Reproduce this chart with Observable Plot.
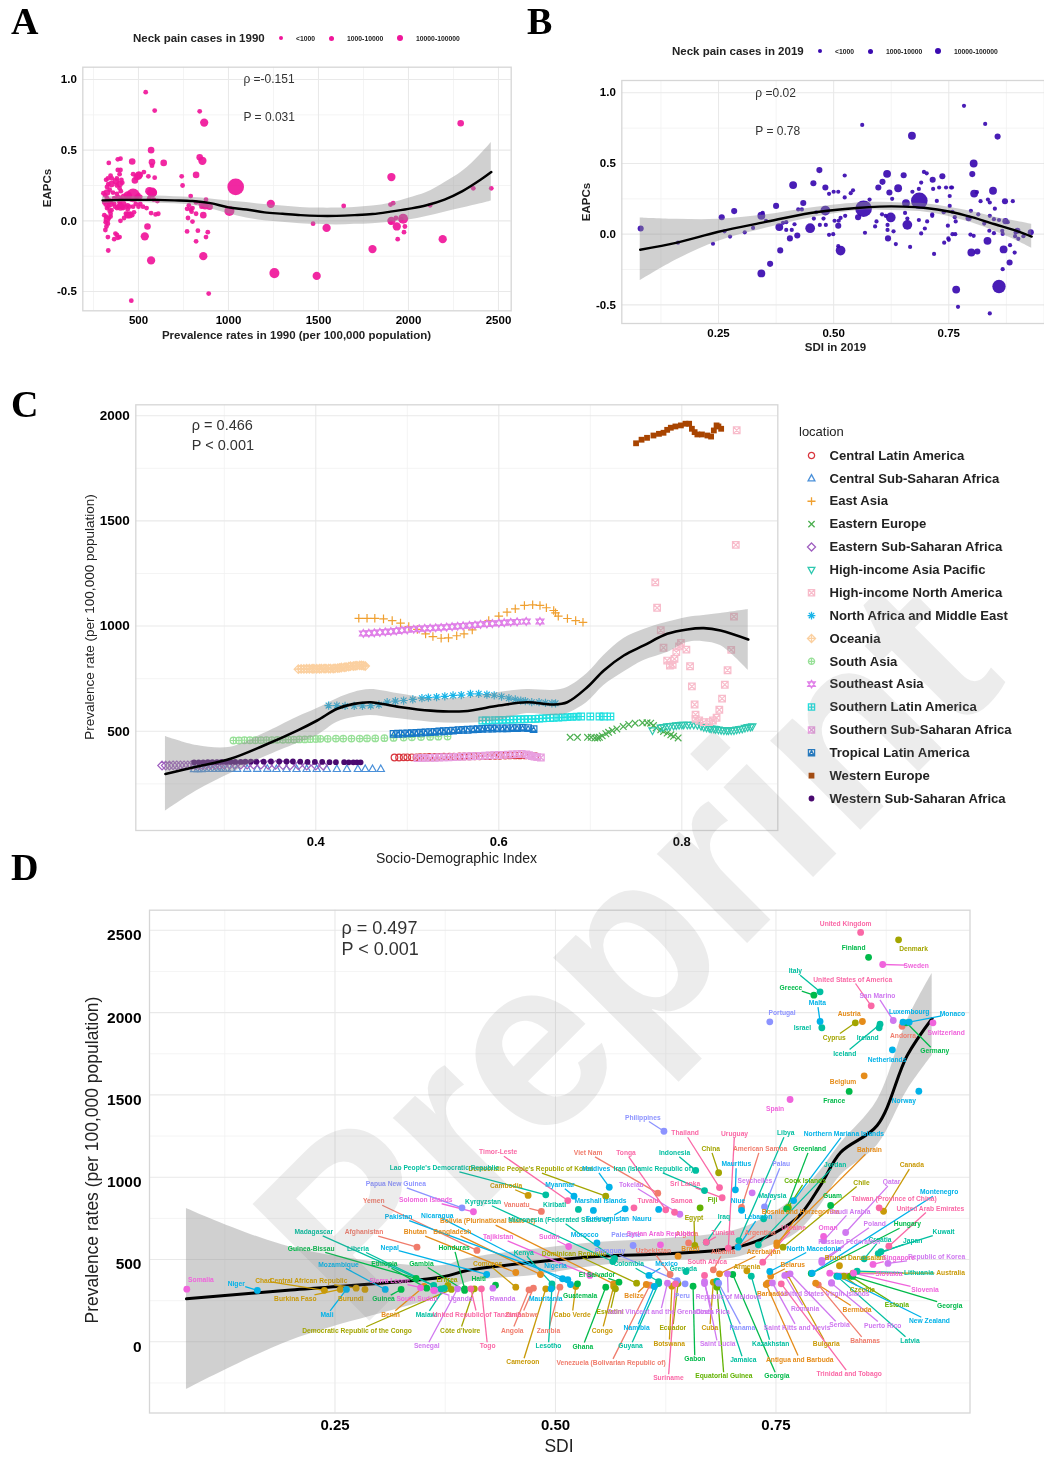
<!DOCTYPE html>
<html><head><meta charset="utf-8">
<script src="https://cdn.jsdelivr.net/npm/d3@7"></script>
<script src="https://cdn.jsdelivr.net/npm/@observablehq/plot@0.6"></script>
<style>
html,body{margin:0;padding:0;background:#fff;}
#page{position:relative;width:1044px;height:1457px;overflow:hidden;font-family:"Liberation Sans",Arial,sans-serif;filter:blur(.35px);}
#page svg{position:absolute;background:transparent;overflow:visible;}
.t{position:absolute;white-space:nowrap;color:#222;}
.ldot{position:absolute;border-radius:50%;}
</style></head><body><div id="page"></div>
<script>
// ---------- Panel A: prevalence 1990 vs EAPC, grouped by estimated case band
const a1990Tiny=[[305,.195],[335,.41],[330,.3],[320,.29],[332,.26],[325,.24],[340,.22],[315,.18],[325,.16],[310,.13],[340,.13],[318,.115],[325,.09],[333,.1],[310,.04],[320,.03],[335,.02],[345,.03],[318,-.01],[330,-.02],[322,-.04],[316,-.065],[330,-.115],[332,-.21],[345,.32],[352,.3],[358,.2],[365,.16],[345,.05],[350,.075],[340,.07],[365,.12],[370,.1],[380,.09],[390,.1],[395,.13],[400,.1],[405,.15],[380,.3],[385,.36],[395,.33],[400,.36],[405,.29],[410,.27],[380,.25],[395,.23],[402,.21],[385,.435],[400,.44],[380,.19],[372,-.09],[380,-.1],[365,-.13],[395,-.115],[385,-.12],[400,0],[420,.02],[430,.05],[440,.08],[450,.1],[470,.1],[490,.17],[510,.12],[475,.06],[485,.12],[430,.1],[415,.09],[530,.345],[555,.315],[590,.305],[545,.09],[575,.18],[585,.15],[560,.16],[610,.05],[595,.045],[570,.055],[605,.14],[540,.91],[590,.78],[840,.775],[575,.39],[740,.315],[745,.25],[790,.175],[770,.085],[780,.11],[790,.08],[800,.09],[795,.065],[775,.02],[800,-.005],[820,.05],[770,-.075],[830,-.07],[820,-.145],[875,-.115],[885,-.08],[890,-.515],[460,-.565],[875,.15],[850,.1],[870,.11],[820,.13],[845,.12],[1470,-.02],[1900,.115],[1915,.125],[1930,.02],[1940,-.13],[1975,-.08],[1980,-.04],[1900,-.01],[1960,.01],[2360,.23],[2460,.23],[2120,.11],[1640,.105],[470,.33],[510,.325],[450,.18],[500,.18],[510,.17],[525,.1],[500,.1],[455,.05],[465,.04],[440,.11]];
const a1990Small=[[465,.42],[570,.5],[575,.415],[640,.41],[840,.45],[2290,.69],[820,.325],[505,.325],[490,.31],[480,.285],[440,.04],[450,.04],[550,-.04],[860,.04],[895,.1],[325,.2],[350,.26],[375,.28],[395,.26],[335,.14],[390,.16],[420,.17],[325,.01],[345,.12]];
const a1990Mid=[[865,.695],[855,.425],[535,-.11],[570,-.28],[860,-.25],[560,.21],[580,.2],[1235,.12],[1490,-.39],[1545,-.05],[1800,-.2],[1905,.31],[1935,-.04],[2190,-.13],[1905,0],[870,.11],[500,.32],[400,.1],[410,.12],[440,.18]];
const a1990Large=[[1255,-.37],[1005,.07],[1970,.015],[575,.2]];
const a1990Huge=[[470,.18]];
const a1990Top=[[1040,.24]];
const aCurveX=[300,400,500,600,700,800,900,1000,1100,1200,1300,1400,1500,1600,1700,1800,1900,2000,2100,2200,2300,2400,2460];
const aCurveY=[.145,.148,.148,.148,.145,.14,.125,.095,.08,.06,.05,.04,.035,.035,.04,.048,.065,.085,.11,.15,.21,.29,.345];
const aCurveLow=[.12,.13,.13,.125,.12,.11,.085,.05,.02,0,-.01,-.02,-.025,-.03,-.025,-.02,-.01,.005,.03,.06,.09,.12,.14];
const aCurveHigh=[.17,.17,.17,.175,.17,.165,.155,.14,.13,.115,.105,.095,.09,.09,.095,.105,.125,.16,.2,.27,.35,.47,.555];

// ---------- Panel B: SDI 2019 vs EAPC
const b2019Tiny=[[.162,-.06],[.238,-.068],[.263,.02],[.275,-.017],[.307,.013],[.325,.044],[.346,.15],[.353,.095],[.39,.08],[.397,.085],[.397,.03],[.409,.03],[.415,.07],[.423,.175],[.431,.175],[.457,.11],[.462,.155],[.47,.065],[.478,.11],[.483,.065],[.49,.285],[.5,.3],[.51,.3],[.502,.095],[.49,-.005],[.499,0],[.511,.095],[.515,.115],[.51,-.085],[.524,.415],[.525,.13],[.524,.26],[.537,.29],[.542,.31],[.562,.773],[.568,.01],[.578,.245],[.59,.055],[.593,.09],[.605,.14],[.613,.13],[.617,.065],[.617,.03],[.627,.25],[.63,.02],[.635,-.07],[.66,.11],[.655,.15],[.666,-.09],[.671,.3],[.685,.32],[.69,.365],[.685,.1],[.69,.005],[.698,.04],[.696,.44],[.702,.43],[.703,.09],[.716,.32],[.714,.13],[.714,.14],[.724,.235],[.729,.33],[.744,.33],[.755,.33],[.752,.27],[.752,.2],[.739,.155],[.748,.06],[.74,-.06],[.749,-.03],[.75,-.04],[.718,-.14],[.757,.33],[.758,.158],[.763,.12],[.765,.09],[.758,0],[.764,0],[.798,.165],[.814,.14],[.797,-.003],[.804,-.012],[.811,.297],[.819,.233],[.835,.245],[.839,.224],[.829,.78],[.85,.18],[.839,.13],[.827,.075],[.848,.106],[.859,.1],[.878,.085],[.838,.024],[.848,.007],[.866,.024],[.867,.002],[.889,.233],[.883,-.078],[.893,-.13],[.867,-.248],[.77,-.514],[.839,-.561],[.895,.012],[.894,-.014],[.901,-.033],[.912,-.014],[.783,.908]];
const b2019Small=[[.081,.04],[.257,.12],[.284,.163],[.375,.2],[.362,-.21],[.384,-.115],[.405,-.03],[.421,-.01],[.434,.22],[.456,.36],[.482,.33],[.51,.06],[.553,.12],[.597,.33],[.606,.37],[.618,-.03],[.621,.295],[.715,.385],[.801,.425],[.793,.113],[.872,.233],[.882,-.2],[.812,-.123],[.899,.024],[.928,.014],[.873,.092],[.469,.453],[.652,.417],[.736,.41],[.856,.69]];
const b2019Mid=[[.343,-.278],[.343,.13],[.382,.05],[.412,.347],[.616,.427],[.64,.325],[.657,.22],[.67,.696],[.804,.5],[.805,.287],[.846,.307],[.834,-.047],[.869,-.108],[.799,-.13],[.766,-.392]];
const b2019Large=[[.449,.042],[.482,.167],[.515,-.116],[.624,.118],[.66,.066]];
const b2019Huge=[[.859,-.37]];
const b2019Top=[[.565,.18],[.686,.236]];
const bCurveX=[.08,.16,.25,.35,.45,.55,.6,.65,.7,.75,.8,.85,.9,.93];
const bCurveY=[-.11,-.06,.017,.085,.15,.185,.195,.195,.185,.16,.12,.07,.02,-.017];
const bCurveLow=[-.33,-.18,-.05,.04,.115,.165,.17,.165,.155,.125,.08,.02,-.05,-.1];
const bCurveHigh=[.115,.105,.105,.135,.185,.22,.225,.22,.215,.19,.16,.12,.09,.07];

// ---------- Panel C: regional trajectories
const centralLatinAmerica=[[.486,375],[.491,375],[.496,376],[.5,376],[.505,376],[.51,376],[.514,377],[.519,377],[.524,378],[.53,378],[.535,378],[.54,379],[.546,379],[.551,379],[.557,380],[.562,380],[.568,380],[.574,381],[.579,381],[.585,382],[.59,382],[.596,383],[.601,383],[.607,384],[.612,385],[.618,385],[.623,385],[.629,385],[.635,383],[.64,382]];
const centralSubSaharan=[[.267,320],[.271,320],[.275,320],[.279,321],[.283,321],[.287,321],[.291,321],[.295,322],[.299,322],[.303,322],[.308,322],[.314,322],[.325,322],[.336,322],[.347,322],[.357,321],[.368,321],[.379,321],[.39,321],[.401,321],[.412,321],[.423,321],[.434,321],[.446,321],[.454,321],[.462,321],[.471,321]];
const eastAsia=[[.447,1037],[.456,1037],[.4645,1037],[.474,1034],[.4835,1026],[.4926,1014],[.5016,998],[.511,984],[.52,963],[.528,950],[.537,942],[.545,944],[.554,954],[.562,963],[.571,982],[.589,1026],[.6,1047],[.609,1066],[.618,1082],[.628,1098],[.637,1101],[.645,1098],[.652,1087],[.66,1074],[.662,1063],[.665,1047],[.675,1036],[.684,1026],[.692,1018]];
const easternEurope=[[.678,471],[.686,471],[.697,471],[.701,471],[.705,468],[.708,468],[.71,471],[.713,478],[.717,488],[.72,495],[.724,503],[.729,511],[.736,522],[.742,532],[.749,538],[.757,540],[.762,540],[.766,538],[.769,527],[.772,516],[.777,507],[.78,499],[.784,491],[.788,483],[.791,476],[.796,468]];
const easternSubSaharan=[[.232,337],[.236,337],[.24,337],[.244,338],[.248,338],[.252,338],[.256,338],[.26,338],[.264,339],[.268,339],[.272,339],[.276,339],[.28,340],[.285,340],[.29,340],[.295,340],[.3,341],[.306,341],[.312,341],[.318,341],[.325,341],[.332,341],[.34,341],[.348,340],[.356,340],[.364,339],[.372,338],[.381,338],[.39,337],[.4,337],[.408,337]];
const highIncomeAsiaPacific=[[.768,503],[.777,516],[.78,519],[.784,522],[.787,524],[.791,525],[.794,527],[.797,529],[.8,530],[.802,530],[.806,530],[.809,530],[.813,530],[.817,529],[.821,524],[.824,519],[.827,516],[.83,514],[.832,512],[.835,511],[.837,509],[.84,507],[.843,505],[.846,503],[.849,503],[.851,503],[.854,503],[.857,503],[.86,507],[.863,509],[.866,511],[.869,515],[.872,519],[.875,520],[.877,522]];
const highIncomeNorthAmerica=[[.86,1931],[.859,1386],[.771,1208],[.773,1087],[.857,1045],[.777,980],[.78,897],[.854,887],[.799,920],[.797,903],[.805,888],[.794,876],[.792,844],[.784,836],[.79,816],[.787,812],[.809,809],[.85,790],[.811,713],[.847,721],[.844,655],[.814,627],[.841,602],[.815,579],[.838,564],[.815,559],[.819,551],[.824,543],[.83,543],[.834,551]];
const northAfricaMiddleEast=[[.414,622],[.423,622],[.432,620],[.442,620],[.451,621],[.46,622],[.469,626],[.478,638],[.487,643],[.496,646],[.506,651],[.516,657],[.523,660],[.532,662],[.541,666],[.55,670],[.559,672],[.569,678],[.578,678],[.587,674],[.595,671],[.603,665],[.611,657],[.618,651],[.624,646],[.629,643],[.636,638],[.644,638],[.651,635],[.658,633],[.662,633]];
const oceania=[[.381,795],[.384,796],[.387,796],[.39,797],[.393,797],[.396,797],[.398,797],[.401,797],[.404,797],[.406,798],[.409,798],[.411,798],[.414,798],[.416,798],[.419,798],[.421,799],[.424,800],[.426,801],[.428,803],[.431,804],[.433,805],[.436,807],[.438,809],[.441,810],[.443,811],[.445,812],[.448,813],[.45,813],[.452,812],[.454,810]];
const southAsia=[[.31,456],[.316,456],[.322,457],[.328,457],[.334,457],[.34,457],[.346,458],[.352,458],[.358,459],[.364,459],[.37,460],[.376,460],[.382,461],[.388,461],[.394,462],[.4,463],[.405,464],[.413,464],[.422,465],[.43,465],[.439,465],[.448,465],[.456,466],[.465,466],[.475,467],[.485,468],[.496,470],[.505,471],[.515,472],[.525,473],[.534,474],[.544,475]];
const southeastAsia=[[.452,965],[.458,966],[.464,968],[.47,970],[.476,972],[.482,974],[.488,977],[.494,980],[.5,982],[.507,985],[.513,987],[.519,989],[.525,990],[.531,992],[.537,993],[.543,995],[.549,997],[.555,999],[.561,1001],[.568,1003],[.574,1005],[.58,1008],[.587,1010],[.593,1012],[.6,1014],[.606,1016],[.613,1018],[.62,1020],[.63,1022],[.645,1022]];
const southernLatinAmerica=[[.582,551],[.586,551],[.59,552],[.596,553],[.6,553],[.604,554],[.608,554],[.612,555],[.616,555],[.62,556],[.624,556],[.628,557],[.632,558],[.636,558],[.64,559],[.644,560],[.648,561],[.652,562],[.656,563],[.66,564],[.665,565],[.67,566],[.675,567],[.68,568],[.685,569],[.69,570],[.7,570],[.71,570],[.715,570],[.722,570]];
const southernSubSaharan=[[.511,372],[.516,372],[.52,373],[.525,373],[.53,374],[.535,375],[.54,376],[.545,376],[.55,377],[.555,378],[.56,379],[.565,380],[.57,381],[.575,382],[.58,383],[.585,384],[.59,385],[.595,386],[.6,387],[.605,388],[.61,389],[.615,390],[.62,391],[.625,392],[.63,390],[.633,386],[.636,382],[.639,379],[.642,377],[.646,375]];
const tropicalLatinAmerica=[[.485,487],[.49,488],[.495,489],[.5,490],[.505,491],[.51,492],[.515,493],[.52,495],[.525,496],[.53,497],[.535,499],[.54,500],[.545,502],[.55,503],[.556,505],[.561,506],[.566,507],[.572,509],[.577,510],[.582,511],[.588,512],[.593,513],[.598,514],[.604,514],[.609,514],[.615,515],[.62,515],[.626,516],[.632,515],[.638,510]];
const westernEurope=[[.75,1869],[.756,1886],[.762,1895],[.769,1906],[.775,1914],[.78,1919],[.784,1933],[.788,1943],[.793,1949],[.799,1954],[.804,1962],[.808,1962],[.811,1938],[.814,1922],[.817,1911],[.822,1911],[.828,1906],[.832,1901],[.835,1930],[.838,1954],[.84,1949],[.843,1938]];
const westernSubSaharan=[[.267,352],[.272,352],[.277,352],[.282,353],[.287,353],[.292,353],[.297,354],[.302,354],[.307,354],[.312,354],[.318,354],[.323,355],[.329,355],[.335,355],[.343,355],[.351,356],[.36,356],[.368,356],[.375,356],[.383,355],[.391,354],[.399,354],[.407,354],[.415,353],[.422,353],[.431,353],[.436,352],[.441,352],[.445,352],[.449,352]];
const cCurveX=[.2357,.2704,.3068,.3432,.3797,.4015,.4234,.4415,.4598,.489,.5254,.5617,.6,.631,.66,.6748,.6966,.7148,.7366,.7585,.784,.8059,.824,.8423,.8726];
const cCurveY=[297,332,369,432,503,551,607,630,638,617,598,595,622,638,627,638,709,789,860,908,963,984,990,979,936];
const cCurveLow=[120,218,299,376,442,480,543,565,575,560,543,538,551,584,575,584,638,717,781,836,874,922,926,907,789];
const cCurveHigh=[475,432,424,489,567,608,655,684,698,679,655,660,684,698,694,708,774,860,941,984,1018,1041,1050,1060,1079];

// ---------- Panel D: country rows by hue group: [name, SDI, prevalence, label SDI, label prevalence]
const redCountries=[["Yemen",.411,555,.294,854],["Afghanistan",.343,575,.283,666],["Vanuatu",.484,792,.456,830],["Viet Nam",.616,903,.537,1148],["Angola",.47,316,.451,69],["Zimbabwe",.475,326,.462,166],["Zambia",.505,332,.492,69],["Uzbekistan",.63,409,.611,550],["Algeria",.651,601,.649,656],["Venezuela (Bolivarian Republic of)",.607,344,.563,-128],["Albania",.679,437,.69,544],["Argentina",.707,579,.732,662],["American Samoa",.711,816,.732,1172],["Bahamas",.798,346,.851,6],["Andorra",.893,1917,.894,1859]];
const orangeCountries=[["Austria",.848,1946,.833,1994],["Belgium",.85,1616,.826,1577],["Bhutan",.455,421,.341,666],["Bangladesh",.483,409,.383,668],["Benin",.351,336,.313,164],["Bolivia (Plurinational State of)",.566,352,.423,733],["Belize",.603,348,.589,277],["Brazil",.639,520,.653,565],["Azerbaijan",.686,413,.736,544],["Bahrain",.751,601,.856,1164],["Belarus",.744,399,.769,468],["Barbados",.741,358,.746,293],["Antigua and Barbuda",.739,348,.777,-108],["Bermuda",.795,356,.842,196],["Bosnia and Herzegovina",.751,585,.778,792]];
const goldCountries=[["Chad",.238,313,.169,371],["Central African Republic",.274,326,.22,371],["Burkina Faso",.256,318,.205,261],["Burundi",.284,318,.268,261],["Cambodia",.469,889,.444,948],["Comoros",.455,332,.423,476],["Cameroon",.489,322,.463,-124],["Cabo Verde",.523,336,.519,166],["Congo",.566,336,.553,69],["Botswana",.632,338,.629,-10],["Cuba",.679,362,.675,83],["Armenia",.717,431,.717,457],["Brunei Darussalam",.822,462,.84,508],["Canada",.872,793,.904,1073],["Bulgaria",.763,409,.807,-12],["Australia",.8375,417,.948,417]];
const oliveCountries=[["Denmark",.889,2442,.906,2385],["Cyprus",.84,1938,.816,1849],["Eritrea",.378,342,.377,378],["Côte d'Ivoire",.408,322,.392,69],["Democratic Republic of the Congo",.382,318,.275,67],["Democratic People's Republic of Korea",.557,885,.472,1049],["Eswatini",.568,322,.562,182],["China",.685,1027,.676,1172],["Chile",.758,575,.847,968],["Egypt",.658,585,.657,755],["Ecuador",.639,354,.633,83],["Dominican Republic",.592,356,.521,535],["Czechia",.827,399,.848,318]];
const limeCountries=[["Cook Islands",.764,816,.783,978],["Estonia",.834,399,.887,222],["Equatorial Guinea",.683,332,.691,-209],["Fiji",.664,814,.678,863]];
const greenCountries=[["France",.833,1521,.816,1462],["Finland",.855,2336,.838,2394],["Gabon",.656,338,.658,-106],["Gambia",.397,312,.348,476],["Ghana",.557,332,.531,-28],["Georgia",.701,409,.751,-209],["Georgia",.837,397,.947,221],["Germany",.898,1938,.93,1765],["Greenland",.762,808,.788,1172],["Guatemala",.525,352,.528,277],["Guam",.812,828,.814,885],["Guinea",.325,318,.305,259],["Guinea-Bissau",.342,385,.223,567],["Greece",.793,2106,.767,2152],["El Salvador",.572,362,.547,409],["Haiti",.432,344,.413,385],["Ethiopia",.354,326,.306,471],["Hungary",.79,415,.899,714],["Honduras",.397,322,.385,571]];
const tealCountries=[["Iceland",.868,1929,.828,1751],["Ireland",.867,1908,.854,1849],["Indonesia",.659,1041,.635,1148],["Iran (Islamic Republic of)",.669,919,.611,1051],["Iraq",.671,605,.691,757],["Israel",.802,1908,.78,1905],["Italy",.80,2126,.772,2251],["Jamaica",.683,368,.713,-112],["Jordan",.73,589,.817,1075],["Kazakhstan",.722,399,.744,-12],["Kenya",.496,352,.464,541],["Kiribati",.526,804,.499,830],["Kuwait",.869,547,.94,666],["Kyrgyzstan",.565,488,.418,851],["Japan",.866,536,.905,611],["Latvia",.819,399,.902,6],["Lao People's Democratic Republic",.489,893,.374,1057],["Liberia",.362,342,.276,567],["Madagascar",.37,322,.226,668],["Libya",.708,615,.761,1267],["Lithuania",.842,429,.912,417],["Croatia",.85,504,.868,621],["Micronesia (Federated States of)",.567,506,.505,741],["Colombia",.617,366,.583,471],["Guyana",.617,354,.585,-27],["Lesotho",.496,330,.492,-27],["Malaysia",.736,747,.746,885],["Malawi",.374,324,.354,164],["Grenada",.648,427,.645,445]];
const blueCountries=[["Malta",.80,1946,.797,2057],["Luxembourg",.894,1942,.901,2005],["Monaco",.901,1942,.95,1993],["Netherlands",.882,1774,.876,1715],["Niger",.162,312,.138,352],["Mozambique",.307,318,.254,470],["Mali",.263,318,.241,164],["Nepal",.422,409,.312,569],["Myanmar",.521,885,.505,954],["Maldives",.561,939,.546,1051],["Marshall Islands",.543,798,.551,857],["Mauritania",.495,322,.489,261],["Mauritius",.704,923,.705,1079],["Mexico",.606,403,.626,471],["Morocco",.547,601,.533,650],["Namibia",.612,336,.592,83],["Nauru",.617,804,.598,749],["New Zealand",.821,397,.924,125],["Nicaragua",.517,348,.366,765],["Nigeria",.508,383,.5,464],["North Macedonia",.743,427,.793,567],["Niue",.711,799,.707,858],["Northern Mariana Islands",.77,858,.827,1265],["Norway",.912,1522,.895,1464],["Montenegro",.791,417,.935,909],["Pakistan",.514,378,.322,761],["Lebanon",.707,575,.73,757],["Turkmenistan",.579,808,.559,745]];
const periwinkleCountries=[["Portugal",.743,1944,.757,2000],["Philippines",.623,1279,.599,1363],["Papua New Guinea",.394,814,.319,960],["Palestine",.588,585,.58,650],["Palau",.737,820,.756,1079],["Peru",.647,352,.644,277],["Panama",.685,356,.712,83],["Paraguay",.638,372,.562,550]];
const purpleCountries=[["San Marino",.883,1952,.865,2102],["Poland",.802,494,.862,717],["Puerto Rico",.813,356,.871,99],["Qatar",.829,664,.881,970],["Republic of Korea",.877,476,.932,516],["Republic of Moldova",.695,413,.696,275],["Romania",.76,403,.783,198],["Russian Federation",.802,482,.833,605],["Rwanda",.429,326,.44,263],["Saint Kitts and Nevis",.746,358,.774,85],["Saint Lucia",.669,366,.684,-15],["Saint Vincent and the Grenadines",.627,356,.619,180],["Saudi Arabia",.804,615,.834,792],["Senegal",.389,322,.354,-27],["Serbia",.766,413,.822,101],["Uganda",.363,312,.392,261],["Seychelles",.723,905,.726,978],["Costa Rica",.669,354,.678,180],["Tokelau",.641,775,.586,954],["United States Virgin Islands",.813,360,.806,293]];
const magentaCountries=[["Somalia",.082,320,.098,374],["Sweden",.871,2292,.909,2286],["Spain",.766,1472,.749,1413],["Switzerland",.928,1938,.943,1879],["Slovakia",.811,417,.878,411],["Slovenia",.838,417,.919,316],["Singapore",.86,470,.889,512],["Solomon Islands",.407,790,.353,863],["South Sudan",.347,328,.343,261],["Sudan",.515,579,.493,638],["Syrian Arab Republic",.619,589,.619,654],["Tajikistan",.539,403,.435,638],["Sierra Leone",.362,312,.312,372],["Oman",.804,640,.809,694]];
const pinkCountries=[["United Kingdom",.846,2487,.829,2541],["United States of America",.858,2041,.837,2201],["Timor-Leste",.514,858,.435,1152],["Thailand",.686,937,.647,1267],["Sri Lanka",.689,875,.647,960],["Tonga",.625,802,.58,1148],["Samoa",.635,787,.643,857],["Tuvalu",.589,814,.605,857],["Togo",.416,322,.423,-27],["United Republic of Tanzania",.404,322,.411,166],["Trinidad and Tobago",.756,352,.833,-197],["Ukraine",.735,484,.77,693],["Tunisia",.671,605,.69,662],["Taiwan (Province of China)",.867,814,.884,871],["United Arab Emirates",.878,581,.925,810],["Uruguay",.696,569,.703,1265],["South Africa",.669,403,.672,484],["Suriname",.636,352,.628,-221]];
const dCurveX=[.0816,.2,.37,.3999,.475,.551,.6266,.6984,.7359,.7744,.8005,.8232,.8647,.8988,.9271];
const dCurveY=[261,315,392,433,484,520,535,567,628,755,950,1150,1314,1739,1964];
const dCurveLow=[-290,8,280,360,403,464,494,506,567,664,828,1010,1193,1527,1739];
const dCurveHigh=[810,575,462,506,561,605,628,670,749,889,1041,1205,1466,1952,2237];

// ---------- scale domains, ticks, annotation texts, palettes
const caseBands=[["tiny",300],["small",1000],["mid",3000],["large",10000],["huge",100000],["top",800000]];
const regions=[["Central Latin America",centralLatinAmerica,"circle","#d9363e"],["Central Sub-Saharan Africa",centralSubSaharan,"triUp","#4a90d9"],["East Asia",eastAsia,"plus","#f0a030"],["Eastern Europe",easternEurope,"times","#4caf50"],["Eastern Sub-Saharan Africa",easternSubSaharan,"diamond","#a060c0"],["High-income Asia Pacific",highIncomeAsiaPacific,"triDown","#2ec8b0"],["High-income North America",highIncomeNorthAmerica,"squareX","#f8bccb"],["North Africa and Middle East",northAfricaMiddleEast,"asterisk","#18b4e8"],["Oceania",oceania,"diamondPlus","#fbd0a0"],["South Asia",southAsia,"circlePlus","#98e098"],["Southeast Asia",southeastAsia,"david","#e080e8"],["Southern Latin America",southernLatinAmerica,"squarePlus","#20e0e0"],["Southern Sub-Saharan Africa",southernSubSaharan,"squareX","#e8a0e0"],["Tropical Latin America",tropicalLatinAmerica,"squareTri","#1878c8"],["Western Europe",westernEurope,"fillSquare","#a84400"],["Western Sub-Saharan Africa",westernSubSaharan,"fillCircle","#4a0a70"]];
const hueGroups=[["red",redCountries,"#F07C6C"],["orange",orangeCountries,"#E58C1A"],["gold",goldCountries,"#C99A08"],["olive",oliveCountries,"#A3A500"],["lime",limeCountries,"#62B200"],["green",greenCountries,"#00BA4A"],["teal",tealCountries,"#00BFA0"],["blue",blueCountries,"#00B2E8"],["periwinkle",periwinkleCountries,"#8C93FF"],["purple",purpleCountries,"#CF78F0"],["magenta",magentaCountries,"#F064DC"],["pink",pinkCountries,"#FA68A6"]];

// ---------- helpers
const page=document.getElementById("page");
const FONT='"Liberation Sans",Arial,sans-serif';
function txt(s,x,y,o={}){const d=document.createElement("div");d.className="t";d.textContent=s;
  d.style.cssText+=`left:${x}px;top:${y}px;font-size:${o.size||11}px;font-weight:${o.weight||"normal"};font-family:${o.font||FONT};color:${o.color||"#222"};transform:translate(${o.tx||"0"},-50%) ${o.rot?`rotate(${o.rot}deg)`:""};`;
  page.appendChild(d);}
function ldot(x,y,r,c){const d=document.createElement("div");d.className="ldot";d.style.cssText+=`left:${x-r}px;top:${y-r}px;width:${2*r}px;height:${2*r}px;background:${c};`;page.appendChild(d);}
function place(p,left,top){p.style.left=left+"px";p.style.top=top+"px";page.appendChild(p);}
const num1=d=>d3.format(".1f")(d).replace("−","-"),num2=d=>d3.format(".2f")(d),plain=d=>String(d);
const GRID="#e9e9e9",MINOR="#f1f1f1",FRAME="#d6d6d6";
function grid(xMajor,xMinor,yMajor,yMinor){return [
  Plot.ruleX(xMinor,{stroke:MINOR,strokeWidth:.8}),Plot.ruleY(yMinor,{stroke:MINOR,strokeWidth:.8}),
  Plot.ruleX(xMajor,{stroke:GRID,strokeWidth:1.1}),Plot.ruleY(yMajor,{stroke:GRID,strokeWidth:1.1})];}
function ribbon(xs,lo,hi,mid,w){const rows=xs.map((x,i)=>({x,lo:lo[i],hi:hi[i],y:mid[i]}));return {
  band:Plot.areaY(rows,{x:"x",y1:"lo",y2:"hi",fill:"#8f8f8f",fillOpacity:.42,curve:"catmull-rom"}),
  line:Plot.line(rows,{x:"x",y:"y",stroke:"#000",strokeWidth:w,curve:"catmull-rom"})};}
function caseRows(lists){return lists.flatMap((l,i)=>l.map(([x,y])=>({x,y,cases:caseBands[i][1]})));}
const base={style:{fontFamily:FONT,background:"transparent",overflow:"visible"}};
function scatter(rows,color){return Plot.dot(rows,{x:"x",y:"y",r:"cases",fill:color,fillOpacity:.92});}

// ---------- Panel A
{const r=ribbon(aCurveX,aCurveLow,aCurveHigh,aCurveY,2.4);
 place(Plot.plot({...base,width:522,height:345,marginLeft:82.3,marginRight:11.3,marginTop:66.7,marginBottom:34.7,
  x:{domain:[190.6,2570.6]},y:{domain:[-.6366,1.087]},r:{type:"log",domain:[300,1e6],range:[2.4,8.5]},
  marks:[...grid([500,1000,1500,2000,2500],[250,750,1250,1750,2250],[-.5,0,.5,1],[-.25,.25,.75]),
   Plot.frame({stroke:FRAME,strokeWidth:1.3}),
   scatter(caseRows([a1990Tiny,a1990Small,a1990Mid,a1990Large,a1990Huge,a1990Top]),"#f0169a"),r.band,r.line,
   Plot.axisX({ticks:[500,1000,1500,2000,2500],tickSize:0,tickPadding:5,fontSize:11.5,fontWeight:"bold",label:null,tickFormat:plain}),
   Plot.axisY({ticks:[-.5,0,.5,1],tickSize:0,tickPadding:6,fontSize:11.5,fontWeight:"bold",tickFormat:num1,label:null}),
   Plot.text([[1083,1.0],[1083,.73]],{x:d=>d[0],y:d=>d[1],text:(d,i)=>["ρ =-0.151","P = 0.031"][i],textAnchor:"start",fontSize:12,fill:"#333"})
  ]}),0,0);}
txt("Prevalence rates in 1990 (per 100,000 population)",296.5,334.5,{size:11.5,weight:"bold",tx:"-50%"});
txt("EAPCs",47,188,{size:11.5,weight:"bold",tx:"-50%",rot:-90});
txt("Neck pain cases in 1990",133,38,{size:11.5,weight:"bold"});
[[281,296,"<1000",2.2],[331,347,"1000-10000",2.5],[400,416,"10000-100000",3.2]].forEach(([dx,tx,s,r])=>{ldot(dx,38,r,"#f0169a");txt(s,tx,38,{size:6.8,weight:"bold"});});

// ---------- Panel B
{const r=ribbon(bCurveX,bCurveLow,bCurveHigh,bCurveY,2.4);
 place(Plot.plot({...base,width:522,height:360,marginLeft:99.3,marginRight:0,marginTop:80,marginBottom:37,
  x:{domain:[.04,.9578]},y:{domain:[-.632,1.087]},r:{type:"log",domain:[300,1e6],range:[2.1,8.5]},
  marks:[...grid([.25,.5,.75],[.125,.375,.625,.875],[-.5,0,.5,1],[-.25,.25,.75]),
   Plot.frame({stroke:FRAME,strokeWidth:1.3}),
   scatter(caseRows([b2019Tiny,b2019Small,b2019Mid,b2019Large,b2019Huge,b2019Top]),"#3a0ab0"),r.band,r.line,
   Plot.axisX({ticks:[.25,.5,.75],tickSize:0,tickPadding:5,fontSize:11.5,fontWeight:"bold",tickFormat:num2,label:null}),
   Plot.axisY({ticks:[-.5,0,.5,1],tickSize:0,tickPadding:6,fontSize:11.5,fontWeight:"bold",tickFormat:num1,label:null}),
   Plot.text([[.33,1.0],[.33,.73]],{x:d=>d[0],y:d=>d[1],text:(d,i)=>["ρ =0.02","P = 0.78"][i],textAnchor:"start",fontSize:12,fill:"#333"})
  ]}),522,0);}
txt("SDI in 2019",835.5,347,{size:11.5,weight:"bold",tx:"-50%"});
txt("EAPCs",586,202,{size:11.5,weight:"bold",tx:"-50%",rot:-90});
txt("Neck pain cases in 2019",672,51,{size:11.5,weight:"bold"});
[[820,835,"<1000",2.2],[870,886,"1000-10000",2.5],[938,954,"10000-100000",3.2]].forEach(([dx,tx,s,r])=>{ldot(dx,51,r,"#3a0ab0");txt(s,tx,51,{size:6.8,weight:"bold"});});

// ---------- Panel C
const shapes={
 circle:(c,r)=>{c.moveTo(r,0);c.arc(0,0,r,0,7);},
 fillCircle:(c,r)=>{c.moveTo(r,0);c.arc(0,0,r,0,7);},
 triUp:(c,r)=>{c.moveTo(0,-r*1.2);c.lineTo(r*1.1,r*.8);c.lineTo(-r*1.1,r*.8);c.closePath();},
 triDown:(c,r)=>{c.moveTo(0,r*1.2);c.lineTo(r*1.1,-r*.8);c.lineTo(-r*1.1,-r*.8);c.closePath();},
 plus:(c,r)=>{const a=r*1.3;c.moveTo(-a,0);c.lineTo(a,0);c.moveTo(0,-a);c.lineTo(0,a);},
 times:(c,r)=>{const a=r;c.moveTo(-a,-a);c.lineTo(a,a);c.moveTo(-a,a);c.lineTo(a,-a);},
 diamond:(c,r)=>{const a=r*1.3;c.moveTo(0,-a);c.lineTo(a,0);c.lineTo(0,a);c.lineTo(-a,0);c.closePath();},
 squareX:(c,r)=>{c.rect(-r,-r,2*r,2*r);c.moveTo(-r,-r);c.lineTo(r,r);c.moveTo(-r,r);c.lineTo(r,-r);},
 squarePlus:(c,r)=>{c.rect(-r,-r,2*r,2*r);c.moveTo(-r,0);c.lineTo(r,0);c.moveTo(0,-r);c.lineTo(0,r);},
 squareTri:(c,r)=>{c.rect(-r,-r,2*r,2*r);c.moveTo(0,-r*.7);c.lineTo(r*.7,r*.6);c.lineTo(-r*.7,r*.6);c.closePath();},
 fillSquare:(c,r)=>{c.rect(-r,-r,2*r,2*r);},
 asterisk:(c,r)=>{const a=r*1.25,b=a*.7;c.moveTo(-a,0);c.lineTo(a,0);c.moveTo(0,-a);c.lineTo(0,a);c.moveTo(-b,-b);c.lineTo(b,b);c.moveTo(-b,b);c.lineTo(b,-b);},
 diamondPlus:(c,r)=>{const a=r*1.3;c.moveTo(0,-a);c.lineTo(a,0);c.lineTo(0,a);c.lineTo(-a,0);c.closePath();c.moveTo(-a,0);c.lineTo(a,0);c.moveTo(0,-a);c.lineTo(0,a);},
 circlePlus:(c,r)=>{c.moveTo(r,0);c.arc(0,0,r,0,7);c.moveTo(-r,0);c.lineTo(r,0);c.moveTo(0,-r);c.lineTo(0,r);},
 david:(c,r)=>{const a=r*1.2;c.moveTo(0,-a);c.lineTo(a,a*.6);c.lineTo(-a,a*.6);c.closePath();c.moveTo(0,a);c.lineTo(a,-a*.6);c.lineTo(-a,-a*.6);c.closePath();}
};
const sym=k=>({draw(c,size){shapes[k](c,Math.sqrt(size/Math.PI));}});
const filled=k=>k==="fillCircle"||k==="fillSquare";
{const r=ribbon(cCurveX,cCurveLow,cCurveHigh,cCurveY,2.6);
 place(Plot.plot({...base,width:800,height:500,marginLeft:135.3,marginRight:22.7,marginTop:34.3,marginBottom:40,
  x:{domain:[.2033,.9049]},y:{domain:[28,2052]},
  marks:[...grid([.4,.6,.8],[.3,.5,.7],[500,1000,1500,2000],[250,750,1250,1750]),
   Plot.frame({stroke:FRAME,strokeWidth:1.3}),
   ...regions.map(([name,pts,k,col])=>Plot.dot(pts,{x:d=>d[0],y:d=>d[1],symbol:sym(k),r:filled(k)?2.9:3.3,stroke:filled(k)?"none":col,fill:filled(k)?col:"none",strokeWidth:1.2})),
   r.band,r.line,
   Plot.axisX({ticks:[.4,.6,.8],tickSize:0,tickPadding:6,fontSize:13,fontWeight:"bold",tickFormat:num1,label:null}),
   Plot.axisY({ticks:[500,1000,1500,2000],tickSize:0,tickPadding:6,fontSize:13.5,fontWeight:"bold",tickFormat:plain,label:null}),
   Plot.text([[.2645,1955],[.2645,1860]],{x:d=>d[0],y:d=>d[1],text:(d,i)=>["ρ = 0.466","P < 0.001"][i],textAnchor:"start",fontSize:14.5,fill:"#333"})
  ]}),0,370);}
txt("Socio-Demographic Index",456.5,858,{size:14,tx:"-50%"});
txt("Prevalence rate (per 100,000 population)",89,617,{size:13.5,tx:"-50%",rot:-90});
// Panel C legend: one row per region, spaced through a linear row scale
txt("location",799,431,{size:13,weight:"500"});
{const rowOf=n=>regions.findIndex(d=>d[0]===n);
 place(Plot.plot({...base,width:245,height:367,marginLeft:0,marginRight:0,marginTop:12,marginBottom:12,
  x:{domain:[0,245],axis:null},y:{domain:[0,15],reverse:true,axis:null},
  marks:[...regions.map(([name,,k,col])=>Plot.dot([name],{x:()=>12,y:rowOf,symbol:sym(k),r:filled(k)?2.9:3.1,stroke:filled(k)?"none":col,fill:filled(k)?col:"none",strokeWidth:1.3})),
   Plot.text(regions.map(d=>d[0]),{x:()=>30,y:rowOf,text:d=>d,textAnchor:"start",fontSize:13.1,fontWeight:"bold",fill:"#222"})]}),799,443);}

// ---------- Panel D
{const W=1044,H=577,ml=149,mr=74.5,mt=29.7,mb=44.5,xd=[.0397,.97],yd=[-432.5,2622];
 const kx=(W-ml-mr)/(xd[1]-xd[0]),ky=(H-mt-mb)/(yd[1]-yd[0]);
 const rows=hueGroups.flatMap(([hue,list])=>list.map(([name,sdi,prev,lx,lv])=>{
   const dx=(sdi-lx)*kx,dy=(prev-lv)*ky,hw=name.length*1.8,hh=4;
   const t=Math.min(Math.abs(dx)>0?hw/Math.abs(dx):9,Math.abs(dy)>0?hh/Math.abs(dy):9);
   const gap=(1-t)*Math.hypot(dx,dy);
   return {hue,name,sdi,prev,lx,lv,x1:lx+t*(sdi-lx),y1:lv+t*(prev-lv),link:t<1&&gap>11};}));
 const r=ribbon(dCurveX,dCurveLow,dCurveHigh,dCurveY,3);
 place(Plot.plot({...base,width:W,height:H,marginLeft:ml,marginRight:mr,marginTop:mt,marginBottom:mb,
  x:{domain:xd},y:{domain:yd},color:{domain:hueGroups.map(d=>d[0]),range:hueGroups.map(d=>d[2])},
  marks:[...grid([.25,.5,.75],[.125,.375,.625,.875],[0,500,1000,1500,2000,2500],[-250,250,750,1250,1750,2250]),
   Plot.frame({stroke:FRAME,strokeWidth:1.3}),
   r.band,r.line,
   Plot.link(rows.filter(d=>d.link),{x1:"x1",y1:"y1",x2:"sdi",y2:"prev",stroke:"hue",strokeWidth:1.3}),
   Plot.dot(rows,{x:"sdi",y:"prev",r:3.4,fill:"hue"}),
   Plot.text(rows,{x:"lx",y:"lv",text:"name",fill:"hue",fontSize:6.7,fontWeight:"bold"}),
   Plot.axisX({ticks:[.25,.5,.75],tickSize:0,tickPadding:6,fontSize:15,fontWeight:"bold",tickFormat:num2,label:null}),
   Plot.axisY({ticks:[0,500,1000,1500,2000,2500],tickSize:0,tickPadding:8,fontSize:15.5,fontWeight:"bold",tickFormat:plain,dy:5,label:null}),
   Plot.text([[.2575,2510],[.2575,2385]],{x:d=>d[0],y:d=>d[1],text:(d,i)=>["ρ = 0.497","P < 0.001"][i],textAnchor:"start",fontSize:18,fill:"#333"})
  ]}),0,880);}
txt("SDI",559,1446,{size:17.5,tx:"-50%"});
txt("Prevalence rates (per 100,000 population)",92,1160,{size:17.5,tx:"-50%",rot:-90});

// ---------- panel letters and watermark
[["A",11,21],["B",527,21],["C",11,404],["D",11,867]].forEach(([s,x,y])=>txt(s,x,y,{size:38,weight:"bold",font:'"Liberation Serif",serif',color:"#000"}));
const wmSvg=d3.create("svg").attr("width",1044).attr("height",1457).style("left","0").style("top","0").style("pointer-events","none").style("overflow","hidden");
wmSvg.append("text").attr("transform","translate(358,1332) rotate(-45)").attr("font-family",'"Liberation Sans",Arial,sans-serif').attr("font-weight",700).attr("font-size",240).attr("fill","rgba(128,128,128,.15)").text("Preprint");
page.appendChild(wmSvg.node());
</script></body></html>
